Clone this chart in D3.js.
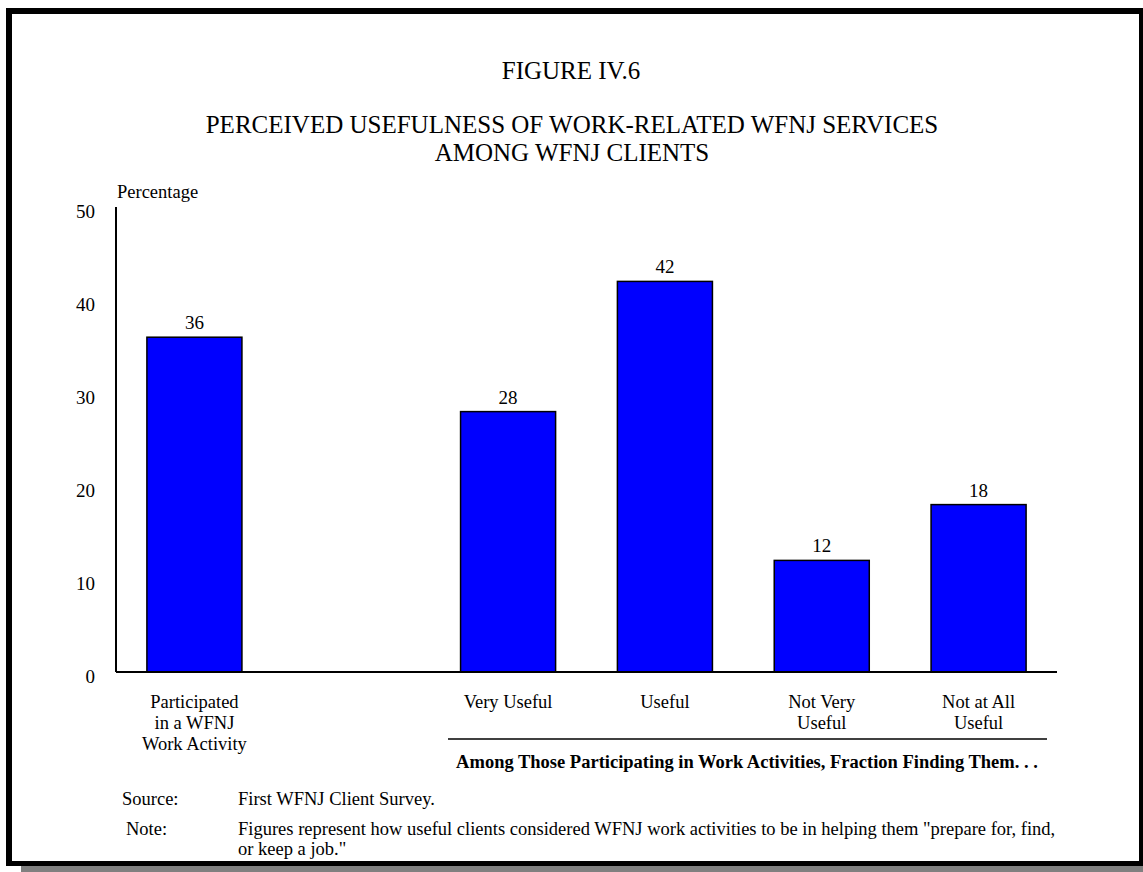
<!DOCTYPE html>
<html>
<head>
<meta charset="utf-8">
<script src="https://cdn.jsdelivr.net/npm/d3@7"></script>
<style>
  html, body { margin: 0; padding: 0; background: #fff; }
  svg { display: block; }
  text { font-family: "Liberation Serif", "Times New Roman", serif; fill: #000; }
</style>
</head>
<body>
<svg id="chart" width="1143" height="872"></svg>
<script>
// Survey results, in percent
const categories = [
  "Participated in a WFNJ Work Activity",
  "Very Useful",
  "Useful",
  "Not Very Useful",
  "Not at All Useful"
];
const values = [36, 28, 42, 12, 18];
// Wrapped category labels as drawn under the axis
const categoryLines = [
  ["Participated", "in a WFNJ", "Work Activity"],
  ["Very Useful"],
  ["Useful"],
  ["Not Very", "Useful"],
  ["Not at All", "Useful"]
];
const yTicks = [0, 10, 20, 30, 40, 50];
// Slot order along the x axis; the gap separates the first bar from the group
const GAP = "__gap__";
const slots = [categories[0], GAP, ...categories.slice(1)];

const svg = d3.select("#chart");

// Frame with drop shadow
svg.append("rect").attr("x", 21).attr("y", 866).attr("width", 1122).attr("height", 6).attr("fill", "#808080");
svg.append("rect").attr("x", 6).attr("y", 8).attr("width", 1137).attr("height", 6).attr("fill", "#000");
svg.append("rect").attr("x", 6).attr("y", 8).attr("width", 6).attr("height", 858).attr("fill", "#000");
svg.append("rect").attr("x", 1139).attr("y", 8).attr("width", 4).attr("height", 858).attr("fill", "#000");
svg.append("rect").attr("x", 6).attr("y", 861).attr("width", 1137).attr("height", 5).attr("fill", "#000");

// Titles
svg.append("text").attr("x", 571).attr("y", 79).attr("text-anchor", "middle")
  .style("font-size", "25px").text("FIGURE IV.6");
svg.append("text").attr("x", 572).attr("y", 133).attr("text-anchor", "middle")
  .style("font-size", "25px").text("PERCEIVED USEFULNESS OF WORK-RELATED WFNJ SERVICES");
svg.append("text").attr("x", 572).attr("y", 161).attr("text-anchor", "middle")
  .style("font-size", "25px").text("AMONG WFNJ CLIENTS");

// Scales
const x = d3.scaleBand().domain(slots).range([116, 1057]).paddingInner(0.394).paddingOuter(0.197);
const y = d3.scaleLinear().domain([0, 50]).range([672, 207]);

// Y axis (no tick marks, labels only)
const yAxis = svg.append("g").attr("transform", "translate(116,0)")
  .call(d3.axisLeft(y).tickValues(yTicks).tickSize(0).tickPadding(21).tickFormat(d3.format("d")));
yAxis.select(".domain").remove();
yAxis.selectAll("text")
  .attr("dy", "0.32em").attr("y", 4.5)
  .style("font-family", "Liberation Serif, serif").style("font-size", "19px").attr("fill", "#000");
svg.append("line").attr("x1", 116).attr("x2", 116).attr("y1", y(50)).attr("y2", y(0))
  .attr("stroke", "#000").attr("stroke-width", 2);

svg.append("text").attr("x", 117).attr("y", 198).style("font-size", "18.5px").text("Percentage");

// Bars
const data = categories.map((c, i) => ({ cat: c, value: values[i], lines: categoryLines[i] }));
svg.append("g").selectAll("rect").data(data).join("rect")
  .attr("x", d => x(d.cat))
  .attr("y", d => y(d.value))
  .attr("width", x.bandwidth())
  .attr("height", d => y(0) - y(d.value))
  .attr("fill", "#0000ff")
  .attr("stroke", "#000")
  .attr("stroke-width", 1.5);

// X axis baseline
svg.append("line").attr("x1", 116).attr("x2", 1057).attr("y1", y(0)).attr("y2", y(0))
  .attr("stroke", "#000").attr("stroke-width", 2);

// Value labels
svg.append("g").selectAll("text").data(data).join("text")
  .attr("x", d => x(d.cat) + x.bandwidth() / 2)
  .attr("y", d => y(d.value) - 8)
  .attr("text-anchor", "middle")
  .style("font-size", "19px")
  .text(d => d3.format("d")(d.value));

// Category labels
const catG = svg.append("g").selectAll("text").data(data).join("text")
  .attr("text-anchor", "middle")
  .style("font-size", "18.5px");
catG.selectAll("tspan").data(d => d.lines.map(l => ({ l, cx: x(d.cat) + x.bandwidth() / 2 })))
  .join("tspan")
  .attr("x", t => t.cx)
  .attr("y", (t, i) => 708 + i * 21)
  .text(t => t.l);

// Group bracket for the usefulness bars
svg.append("line").attr("x1", 448).attr("x2", 1047).attr("y1", 739).attr("y2", 739)
  .attr("stroke", "#000").attr("stroke-width", 1.5);
svg.append("text").attr("x", 747).attr("y", 768).attr("text-anchor", "middle")
  .style("font-size", "18.5px").style("font-weight", "bold")
  .text("Among Those Participating in Work Activities, Fraction Finding Them. . .");

// Source and note
svg.append("text").attr("x", 122).attr("y", 805).style("font-size", "18.5px").text("Source:");
svg.append("text").attr("x", 238).attr("y", 805).style("font-size", "18.5px").text("First WFNJ Client Survey.");
svg.append("text").attr("x", 126).attr("y", 835).style("font-size", "18.5px").text("Note:");
svg.append("text").attr("x", 238).attr("y", 835).style("font-size", "18.5px")
  .text("Figures represent how useful clients considered WFNJ work activities to be in helping them \"prepare for, find,");
svg.append("text").attr("x", 238).attr("y", 855).style("font-size", "18.5px").text("or keep a job.\"");
</script>
</body>
</html>
